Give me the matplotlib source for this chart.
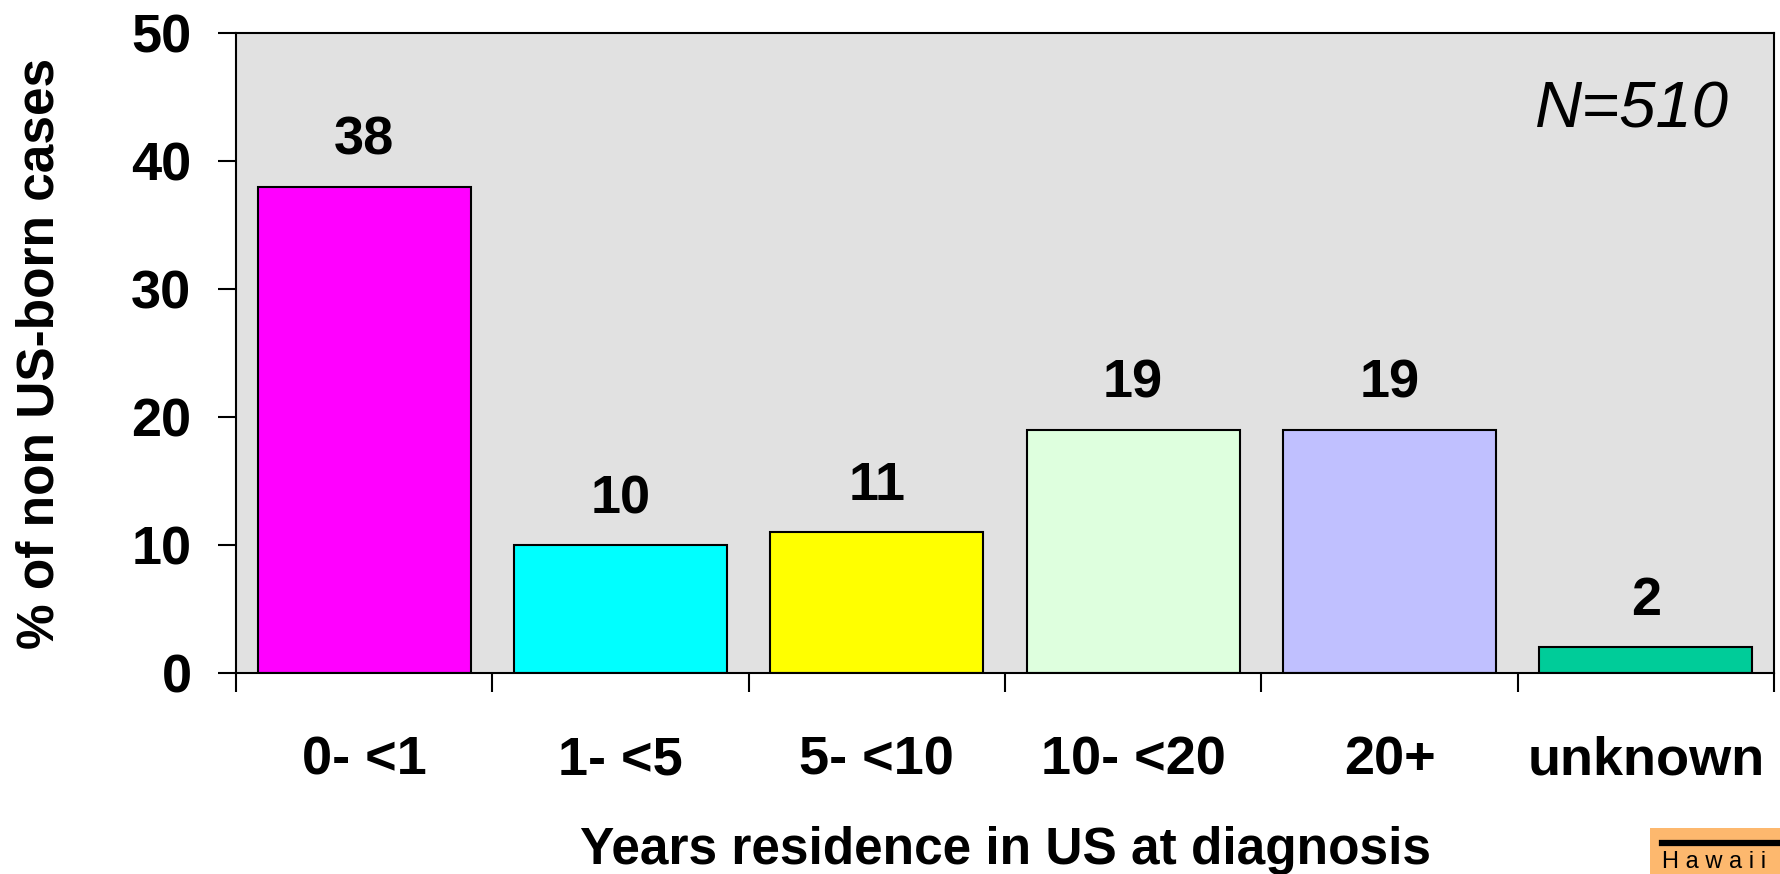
import matplotlib.pyplot as plt
from matplotlib.patches import Rectangle
from matplotlib.lines import Line2D

categories = ["0- <1", "1- <5", "5- <10", "10- <20", "20+", "unknown"]
percents = [38, 10, 11, 19, 19, 2]
bar_colors = ["#FF00FF", "#00FFFF", "#FFFF00", "#DEFFDE", "#C0C0FF", "#00CC99"]
y_ticks = [0, 10, 20, 30, 40, 50]

plt.rcParams['font.family'] = ['Liberation Sans', 'DejaVu Sans']

W, H = 1780, 874
fig = plt.figure(figsize=(W / 100, H / 100), dpi=100)
left, right, top, bottom = 236, 1774, 33, 673
ax = fig.add_axes([left / W, 1 - bottom / H, (right - left) / W, (bottom - top) / H])
ax.set_facecolor("#E1E1E1")

x = list(range(len(categories)))
bars = ax.bar(x, percents, width=0.83, color=bar_colors,
              edgecolor="black", linewidth=1.5, zorder=2)

for xi, v in zip(x, percents):
    ax.annotate(str(v), (xi, v), xytext=(0, 23), textcoords="offset points",
                ha="center", va="baseline", fontsize=39, fontweight="bold")

ax.set_xlim(-0.5, len(categories) - 0.5)
ax.set_ylim(0, 50)
ax.set_yticks(y_ticks)
ax.set_yticklabels([str(t) for t in y_ticks], fontsize=39, fontweight="bold")

# major ticks at category borders, labels on minor ticks at centres
ax.set_xticks([i - 0.5 for i in range(len(categories) + 1)])
ax.set_xticklabels([])
ax.set_xticks(x, minor=True)
ax.set_xticklabels(categories, minor=True, fontsize=39, fontweight="bold")
ax.tick_params(axis="x", which="major", direction="out", length=14, width=1.5)
ax.tick_params(axis="x", which="minor", length=0, pad=45)
ax.tick_params(axis="y", direction="out", length=13, width=1.5, pad=19)

for s in ax.spines.values():
    s.set_linewidth(1.5)

ax.set_ylabel("% of non US-born cases", fontsize=37, fontweight="bold")
ax.yaxis.set_label_coords(-(left - 53) / (right - left), 0.5)
ax.yaxis.label.set_va("baseline")

fig.text(((left + right) / 2) / W, 1 - 864 / H, "Years residence in US at diagnosis",
         ha="center", va="baseline", fontsize=37, fontweight="bold")

ax.text(0.971, 0.852, "N=510", transform=ax.transAxes, ha="right", va="baseline",
        fontsize=47, fontstyle="italic")

# small logo strip cut off at the bottom right corner
fig.patches.append(Rectangle((1650 / W, 0), (W - 1650) / W, (H - 828) / H,
                             transform=fig.transFigure, facecolor="#FDB86E",
                             edgecolor="none"))
fig.lines.append(Line2D([1662 / W, 1], [1 - 843 / H, 1 - 843 / H],
                        transform=fig.transFigure, color="black", linewidth=4.5))
fig.text(1662 / W, 1 - 868 / H, "H a w a i i", fontsize=17, va="baseline", ha="left")

fig.savefig("out.png", dpi=100)
